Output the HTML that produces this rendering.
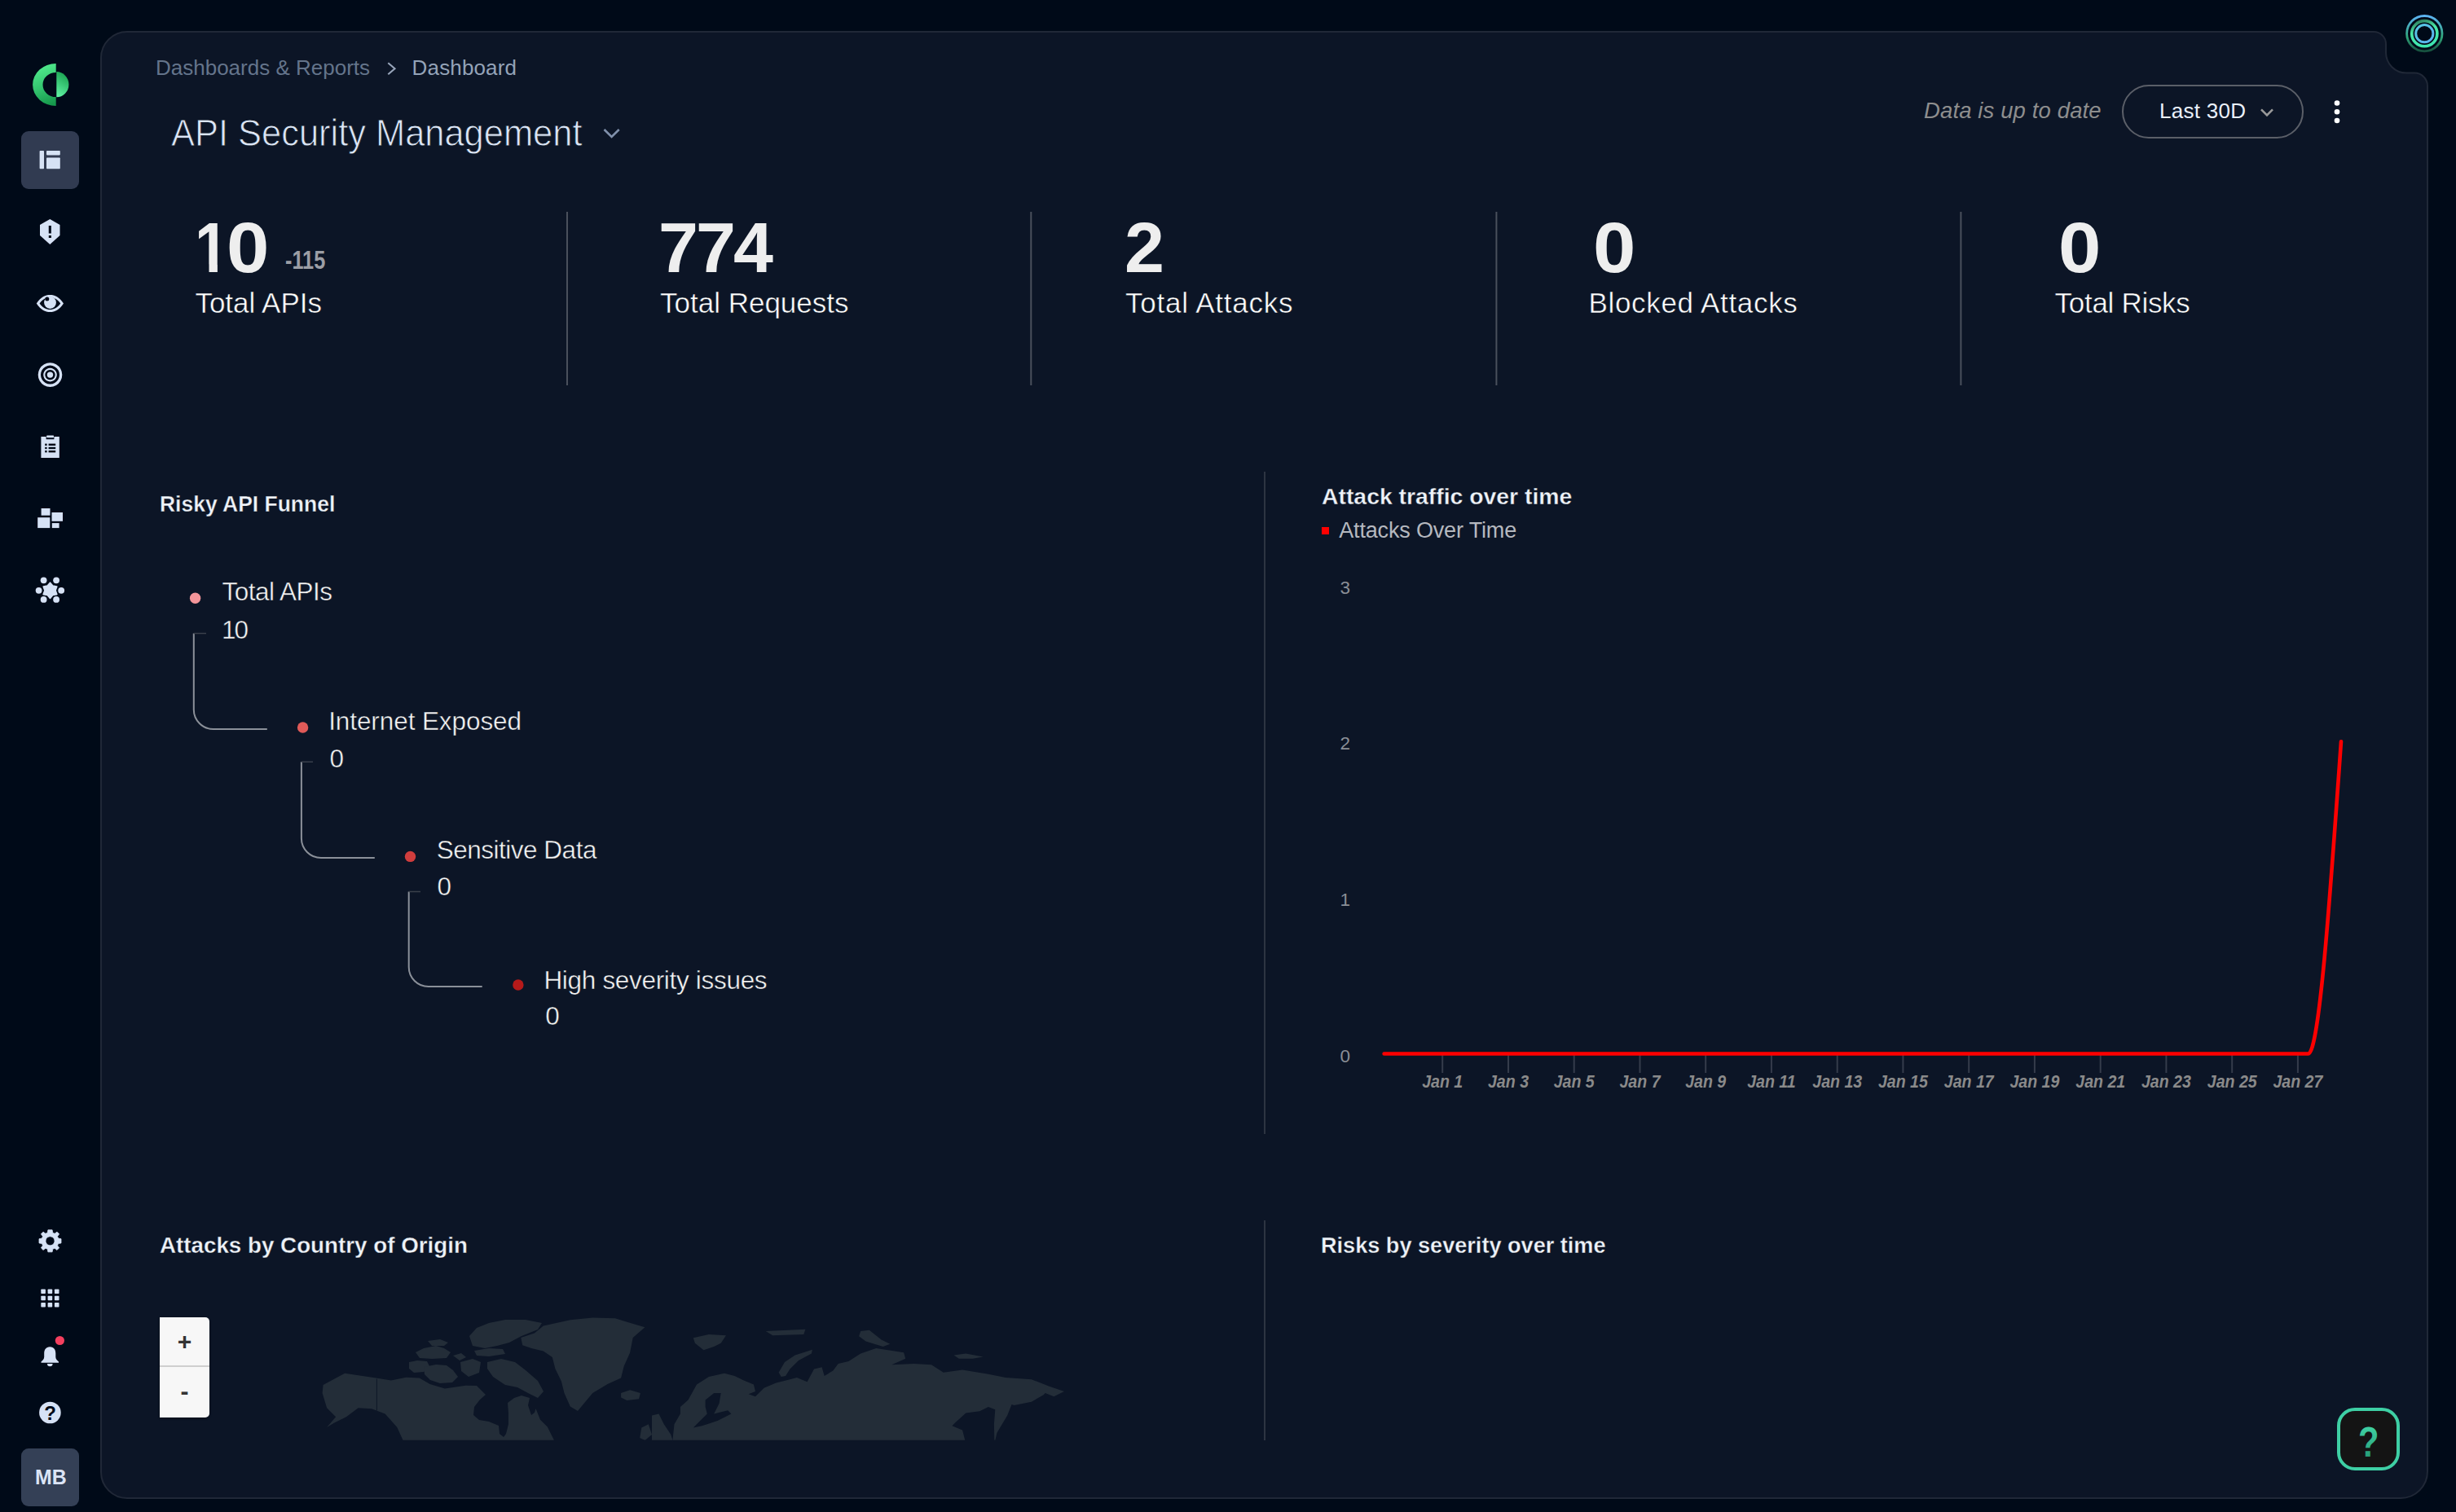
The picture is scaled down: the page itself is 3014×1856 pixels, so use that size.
<!DOCTYPE html>
<html lang="en">
<head>
<meta charset="utf-8">
<title>API Security Management - Dashboard</title>
<style>
html,body{margin:0;padding:0}
body{width:3014px;height:1856px;overflow:hidden;position:relative;background:#000a18;font-family:"Liberation Sans",Arial,sans-serif;color:#fff}
.t{position:absolute;line-height:1;white-space:nowrap}
svg{position:absolute;left:0;top:0;overflow:visible}
.nav{position:absolute}
.bc{font-size:26px;color:#64748b}
.title{font-size:46px;color:#dbe5f6;letter-spacing:0}
.num{font-size:88px;font-weight:bold;color:#eeeeee}
.lbl{font-size:35px;color:#ffffff;-webkit-text-stroke:0.5px #0c1526}
.h{font-size:28.5px;font-weight:bold;color:#eef2f8;-webkit-text-stroke:0.35px #0c1526}
.fl{font-size:31.5px;color:#f4f4f4;-webkit-text-stroke:0.45px #0c1526}
.zoom{position:absolute;left:196px;top:1617px;width:61px;height:123px;background:#f7f7f7;border-radius:0 5px 5px 0;box-shadow:0 1px 3px rgba(0,0,0,.4)}
.zoom div{position:absolute;left:0;width:61px;height:61px;text-align:center;color:#333;font-weight:bold;font-family:"Liberation Sans",sans-serif}
</style>
</head>
<body>

<!-- main panel shape -->
<svg width="3014" height="1856" viewBox="0 0 3014 1856">
  <path d="M156 39 H2913 A15 15 0 0 1 2928 54 V64.5 A25 25 0 0 0 2953 89.5 H2963 A16 16 0 0 1 2979 105.5 V1806 A33 33 0 0 1 2946 1839 H156 A32 32 0 0 1 124 1807 V71 A32 32 0 0 1 156 39 Z" fill="#0c1526" stroke="#202837" stroke-width="2"/>
</svg>

<!-- ===== sidebar ===== -->
<svg width="130" height="1856" viewBox="0 0 130 1856">
  <defs>
    <linearGradient id="lg1" x1="0.4" y1="0" x2="0.6" y2="1"><stop offset="0" stop-color="#52ec8e"/><stop offset="0.55" stop-color="#33c46e"/><stop offset="1" stop-color="#16994c"/></linearGradient>
    <linearGradient id="lg2" x1="0.6" y1="0" x2="0.3" y2="1"><stop offset="0" stop-color="#18a04e"/><stop offset="1" stop-color="#5ef2a2"/></linearGradient>
  </defs>
  <!-- logo -->
  <path d="M68.7 78 A28.6 26 0 0 0 68.7 130 V119.1 A16.2 15.1 0 0 1 68.7 88.9 Z" fill="url(#lg1)"/>
  <path d="M69.3 88.1 A15.1 15.6 0 0 1 69.3 119.3 Z" fill="url(#lg2)"/>
  <!-- active button -->
  <rect x="26" y="161" width="71" height="71" rx="9" fill="#313b51"/>
  <g fill="#d6e2f5">
    <rect x="48.6" y="185" width="5.4" height="22.3" rx="0.8"/>
    <rect x="57" y="185" width="16.8" height="5.4" rx="0.8"/>
    <rect x="57" y="193.4" width="16.8" height="13.9" rx="0.8"/>
  </g>
  <g fill="#d6e2f5">
    <!-- shield -->
    <path d="M61.3 268.9 L73.5 276 V289 L61.3 300 L49 289 V276 Z"/>
    <!-- eye -->
    <path d="M44.8 372.5 C50 364.5 55.5 362 61.4 362 C67.3 362 72.8 364.5 78 372.5 C72.8 380.5 67.3 383 61.4 383 C55.5 383 50 380.5 44.8 372.5 Z M48.6 372.5 C52.6 378 56.6 380 61.4 380 C66.2 380 70.2 378 74.2 372.5 C70.2 367 66.2 365 61.4 365 C56.6 365 52.6 367 48.6 372.5 Z" fill-rule="evenodd"/>
    <circle cx="61.5" cy="371.6" r="7.4"/>
    <!-- target -->
    <path d="M61.5 445.3 a14.8 14.8 0 1 0 0.01 0 Z M61.5 448.6 a11.5 11.5 0 1 1 -0.01 0 Z" fill-rule="evenodd"/>
    <path d="M61.5 451.8 a8.3 8.3 0 1 0 0.01 0 Z M61.5 453.9 a6.2 6.2 0 1 1 -0.01 0 Z" fill-rule="evenodd"/>
    <circle cx="61.5" cy="460.1" r="3.7"/>
    <!-- clipboard -->
    <path d="M50.4 536 H56.6 V539.2 H66.4 V536 H72.8 V562 H50.4 Z"/>
    <rect x="57.2" y="534.6" width="8.8" height="2.6" rx="0.6"/>
    <!-- blocks -->
    <rect x="50.6" y="624" width="10.9" height="8.7"/>
    <rect x="63.5" y="629" width="13.5" height="10.8"/>
    <rect x="46.2" y="635.2" width="15.1" height="12.9"/>
    <rect x="63.8" y="642.1" width="8.8" height="6"/>
    <!-- hub -->
    <path d="M61.50 715.20 L64.80 719.08 L69.81 720.00 L68.10 724.80 L69.81 729.60 L64.80 730.52 L61.50 734.40 L58.20 730.52 L53.19 729.60 L54.90 724.80 L53.19 720.00 L58.20 719.08 Z" stroke="#d6e2f5" stroke-width="1.6" stroke-linejoin="round"/>
    <circle cx="53.6" cy="712.3" r="3.9"/><circle cx="69.1" cy="712.3" r="3.9"/>
    <circle cx="47.6" cy="724.8" r="3.9"/><circle cx="75.2" cy="724.8" r="3.9"/>
    <circle cx="53.6" cy="735.9" r="3.9"/><circle cx="69.1" cy="735.9" r="3.9"/>
    <!-- gear -->
    <g transform="translate(61.5 1523.3)">
      <path d="M-2.6 -13.5 H2.6 L3.2 -10 L5.6 -9 L8.5 -11.1 L11.1 -8.5 L9 -5.6 L10 -3.2 L13.5 -2.6 V2.6 L10 3.2 L9 5.6 L11.1 8.5 L8.5 11.1 L5.6 9 L3.2 10 L2.6 13.5 H-2.6 L-3.2 10 L-5.6 9 L-8.5 11.1 L-11.1 8.5 L-9 5.6 L-10 3.2 L-13.5 2.6 V-2.6 L-10 -3.2 L-9 -5.6 L-11.1 -8.5 L-8.5 -11.1 L-5.6 -9 L-3.2 -10 Z M0 -5.5 A5.5 5.5 0 1 0 0.01 -5.5 Z" fill-rule="evenodd" stroke="#d6e2f5" stroke-width="0.8" stroke-linejoin="round"/>
    </g>
    <!-- grid -->
    <rect x="50.3" y="1582.4" width="5.6" height="5.6" rx="0.8"/><rect x="58.6" y="1582.4" width="5.6" height="5.6" rx="0.8"/><rect x="66.9" y="1582.4" width="5.6" height="5.6" rx="0.8"/>
    <rect x="50.3" y="1590.7" width="5.6" height="5.6" rx="0.8"/><rect x="58.6" y="1590.7" width="5.6" height="5.6" rx="0.8"/><rect x="66.9" y="1590.7" width="5.6" height="5.6" rx="0.8"/>
    <rect x="50.3" y="1599" width="5.6" height="5.6" rx="0.8"/><rect x="58.6" y="1599" width="5.6" height="5.6" rx="0.8"/><rect x="66.9" y="1599" width="5.6" height="5.6" rx="0.8"/>
    <!-- bell -->
    <path d="M61.3 1653.2 C56.3 1653.2 54.2 1656.8 54.2 1661.5 V1665.8 C54.2 1668.3 52.3 1670 50.5 1671.4 V1672.8 H72 V1671.4 C70.2 1670 68.3 1668.3 68.3 1665.8 V1661.5 C68.3 1656.8 66.3 1653.2 61.3 1653.2 Z"/>
    <path d="M58 1674 H64.6 A3.3 3.3 0 0 1 58 1674 Z"/>
    <!-- help circle -->
    <circle cx="61.4" cy="1734" r="13.3"/>
  </g>
  <g fill="none" stroke="#000a18">
    <path d="M61.3 277 V286.5" stroke-width="3.1"/>
  </g>
  <rect x="59.8" y="289" width="3.1" height="3" fill="#000a18"/>
  <circle cx="57.8" cy="367" r="2.5" fill="#000a18"/>
  <g fill="#000a18">
    <rect x="55.2" y="544.6" width="2.4" height="2.4"/><rect x="59.6" y="544.6" width="8.6" height="2.4"/>
    <rect x="55.2" y="548.8" width="2.4" height="2.4"/><rect x="59.6" y="548.8" width="8.6" height="2.4"/>
    <rect x="55.2" y="553" width="2.4" height="2.4"/><rect x="59.6" y="553" width="8.6" height="2.4"/>
  </g>
  <text x="61.6" y="1743" text-anchor="middle" font-family="Liberation Sans" font-weight="bold" font-size="24" fill="#000a18">?</text>
  <circle cx="73.4" cy="1645.5" r="5.6" fill="#f43f5e"/>
  <rect x="26" y="1778" width="71" height="71" rx="9" fill="#344056"/>
</svg>
<div class="t" style="left:42.6px;top:1799.8px;font-size:26.7px;font-weight:bold;color:#dbe4f5;transform:scaleX(0.933);transform-origin:0 0">MB</div>

<!-- top-right ring logo -->
<svg width="3014" height="120" viewBox="0 0 3014 120">
  <defs>
    <linearGradient id="rg1" x1="0" y1="0" x2="0" y2="1"><stop offset="0" stop-color="#5db4f2"/><stop offset="0.6" stop-color="#2fa57a"/><stop offset="1" stop-color="#16503e"/></linearGradient>
    <linearGradient id="rg2" x1="0.2" y1="0" x2="0.5" y2="1"><stop offset="0" stop-color="#2f7f5f"/><stop offset="0.4" stop-color="#49e8a6"/><stop offset="1" stop-color="#3ee6b0"/></linearGradient>
    <linearGradient id="rg3" x1="0" y1="0" x2="1" y2="1"><stop offset="0" stop-color="#56c8e0"/><stop offset="1" stop-color="#5ab0f0"/></linearGradient>
  </defs>
  <circle cx="2975.3" cy="41.2" r="21.7" fill="none" stroke="url(#rg1)" stroke-width="2.8"/>
  <circle cx="2975.3" cy="41.2" r="15.6" fill="none" stroke="url(#rg2)" stroke-width="3.6"/>
  <circle cx="2975.3" cy="41.2" r="10.6" fill="none" stroke="url(#rg3)" stroke-width="3"/>
</svg>

<!-- ===== header ===== -->
<div class="t bc" style="left:191px;top:69.8px;letter-spacing:0px">Dashboards &amp; Reports</div>
<svg width="600" height="120"><path d="M476.3 77.3 L484.5 84.3 L476.3 91.3" fill="none" stroke="#98a5ba" stroke-width="2.1"/></svg>
<div class="t bc" style="left:505.6px;top:69.8px;color:#94a3b8;letter-spacing:0.15px">Dashboard</div>
<div class="t title" style="left:209.6px;top:139.7px;transform:scaleX(0.944);transform-origin:0 0;-webkit-text-stroke:0.9px #0c1526">API Security Management</div>
<svg width="800" height="200"><path d="M741.5 159 L750.6 168 L759.7 159" fill="none" stroke="#8090ab" stroke-width="2.6"/></svg>

<div class="t" style="left:2361px;top:122.1px;font-size:27.5px;font-style:italic;color:#8e8e8e;letter-spacing:0.12px">Data is up to date</div>
<div style="position:absolute;left:2604px;top:104px;width:219px;height:62px;border:2px solid #5b5f68;border-radius:33px"></div>
<div class="t" style="left:2650px;top:123.4px;font-size:26px;color:#eaf0fb;letter-spacing:0.29px">Last 30D</div>
<svg width="3014" height="200"><path d="M2775 134.3 L2782 141.3 L2789 134.3" fill="none" stroke="#9a9a9a" stroke-width="2.6"/>
  <g fill="#ffffff"><circle cx="2868" cy="126.5" r="3.3"/><circle cx="2868" cy="137.2" r="3.3"/><circle cx="2868" cy="148" r="3.3"/></g>
</svg>

<!-- ===== stats ===== -->
<div class="t num" style="left:238.9px;top:260.2px;transform:scaleX(0.85);transform-origin:0 0;clip-path:polygon(0 0,100% 0,100% 64.5px,32.8px 64.5px,32.8px 100%,20.6px 100%,20.6px 64.5px,0 64.5px)">1</div>
<div class="t num" style="left:277.5px;top:260.2px;transform:scaleX(1.07);transform-origin:0 0">0</div>
<div class="t" style="left:350px;top:303.7px;font-size:30.5px;font-weight:bold;color:#9c9ea5;transform:scaleX(0.83);transform-origin:0 0">-115</div>
<div class="t lbl" style="left:239.4px;top:353.6px;letter-spacing:0px">Total APIs</div>
<div class="t num" style="left:808px;top:260.2px;letter-spacing:-3px">774</div>
<div class="t lbl" style="left:810px;top:353.6px;letter-spacing:0px">Total Requests</div>
<div class="t num" style="left:1380px;top:260.2px">2</div>
<div class="t lbl" style="left:1381px;top:353.6px;letter-spacing:0.75px">Total Attacks</div>
<div class="t num" style="left:1954.8px;top:260.2px;transform:scaleX(1.07);transform-origin:0 0">0</div>
<div class="t lbl" style="left:1949.5px;top:353.6px;letter-spacing:0.66px">Blocked Attacks</div>
<div class="t num" style="left:2525.6px;top:260.2px;transform:scaleX(1.07);transform-origin:0 0">0</div>
<div class="t lbl" style="left:2521.6px;top:353.6px;letter-spacing:-0.3px">Total Risks</div>
<svg width="3014" height="600"><g stroke="#4a505c" stroke-width="2">
  <line x1="696" y1="260" x2="696" y2="473"/><line x1="1265.3" y1="260" x2="1265.3" y2="473"/>
  <line x1="1836.4" y1="260" x2="1836.4" y2="473"/><line x1="2406.4" y1="260" x2="2406.4" y2="473"/></g></svg>

<!-- ===== funnel ===== -->
<div class="t h" style="left:195.6px;top:603.8px;transform:scaleX(0.929);transform-origin:0 0">Risky API Funnel</div>
<svg width="1200" height="1300">
  <g fill="none" stroke="#8b9099" stroke-width="2">
    <path d="M237.8 777.5 V871 A24 24 0 0 0 261.8 895 H327.8"/>
    <path d="M369.9 935.2 V1029 A24 24 0 0 0 393.9 1053 H459.8"/>
    <path d="M501.7 1094.5 V1187 A24 24 0 0 0 525.7 1211 H591.7"/>
  </g>
  <g fill="none" stroke="#3a404b" stroke-width="1.5">
    <path d="M237.8 777.5 H253"/><path d="M369.9 935.2 H384"/><path d="M501.7 1094.5 H516"/>
  </g>
  <circle cx="239.6" cy="734.3" r="6.7" fill="#f4959a"/>
  <circle cx="371.6" cy="893" r="6.7" fill="#e05a58"/>
  <circle cx="503.5" cy="1051.4" r="6.7" fill="#d03d3d"/>
  <circle cx="635.9" cy="1209" r="6.7" fill="#b51a1a"/>
</svg>
<div class="t fl" style="left:272.4px;top:711px;letter-spacing:-0.5px">Total APIs</div>
<div class="t fl" style="left:272px;top:758.4px;letter-spacing:-2px">10</div>
<div class="t fl" style="left:403.2px;top:870.2px;letter-spacing:-0.09px">Internet Exposed</div>
<div class="t fl" style="left:404.6px;top:915.8px">0</div>
<div class="t fl" style="left:535.8px;top:1028.2px;letter-spacing:-0.5px">Sensitive Data</div>
<div class="t fl" style="left:536.6px;top:1073.2px">0</div>
<div class="t fl" style="left:667.4px;top:1187.9px;letter-spacing:-0.31px">High severity issues</div>
<div class="t fl" style="left:669.3px;top:1232.1px">0</div>

<!-- ===== attack chart ===== -->
<div class="t h" style="left:1621.6px;top:595px;transform:scaleX(0.995);transform-origin:0 0">Attack traffic over time</div>
<div style="position:absolute;left:1622px;top:647.3px;width:9.4px;height:9px;background:#ff0000"></div>
<div class="t" style="left:1643.2px;top:638px;font-size:27px;color:#b5b8bf;letter-spacing:-0.16px">Attacks Over Time</div>
<svg width="3014" height="1856">
  <g stroke="#2d3442" stroke-width="2"><line x1="1552" y1="579" x2="1552" y2="1392"/><line x1="1552" y1="1498" x2="1552" y2="1768"/></g>
  <g stroke="#353c4b" stroke-width="2"><line x1="1770.2" y1="1295" x2="1770.2" y2="1317"/><line x1="1851.0" y1="1295" x2="1851.0" y2="1317"/><line x1="1931.7" y1="1295" x2="1931.7" y2="1317"/><line x1="2012.5" y1="1295" x2="2012.5" y2="1317"/><line x1="2093.2" y1="1295" x2="2093.2" y2="1317"/><line x1="2173.9" y1="1295" x2="2173.9" y2="1317"/><line x1="2254.7" y1="1295" x2="2254.7" y2="1317"/><line x1="2335.4" y1="1295" x2="2335.4" y2="1317"/><line x1="2416.2" y1="1295" x2="2416.2" y2="1317"/><line x1="2496.9" y1="1295" x2="2496.9" y2="1317"/><line x1="2577.7" y1="1295" x2="2577.7" y2="1317"/><line x1="2658.4" y1="1295" x2="2658.4" y2="1317"/><line x1="2739.2" y1="1295" x2="2739.2" y2="1317"/><line x1="2819.9" y1="1295" x2="2819.9" y2="1317"/></g>
  <g font-family="Liberation Sans" font-size="22.5" fill="#8a8e96" text-anchor="end"><text x="1657" y="1304.0">0</text><text x="1657" y="1112.2">1</text><text x="1657" y="920.4">2</text><text x="1657" y="728.6">3</text></g>
  <g font-family="Liberation Sans" font-size="22" font-weight="bold" font-style="italic" fill="#8a8a8a" text-anchor="middle"><text transform="translate(1770.2 1334.5) scale(0.89 1)">Jan 1</text><text transform="translate(1851.0 1334.5) scale(0.89 1)">Jan 3</text><text transform="translate(1931.7 1334.5) scale(0.89 1)">Jan 5</text><text transform="translate(2012.5 1334.5) scale(0.89 1)">Jan 7</text><text transform="translate(2093.2 1334.5) scale(0.89 1)">Jan 9</text><text transform="translate(2173.9 1334.5) scale(0.89 1)">Jan 11</text><text transform="translate(2254.7 1334.5) scale(0.89 1)">Jan 13</text><text transform="translate(2335.4 1334.5) scale(0.89 1)">Jan 15</text><text transform="translate(2416.2 1334.5) scale(0.89 1)">Jan 17</text><text transform="translate(2496.9 1334.5) scale(0.89 1)">Jan 19</text><text transform="translate(2577.7 1334.5) scale(0.89 1)">Jan 21</text><text transform="translate(2658.4 1334.5) scale(0.89 1)">Jan 23</text><text transform="translate(2739.2 1334.5) scale(0.89 1)">Jan 25</text><text transform="translate(2819.9 1334.5) scale(0.89 1)">Jan 27</text></g>
  <path d="M1698.6 1293.5 H2832.6 C2846.1 1293.5 2859.5 1101.5 2873 910.2" fill="none" stroke="#ff0000" stroke-width="4.6" stroke-linecap="round" stroke-linejoin="round"/>
</svg>

<!-- ===== bottom row ===== -->
<div class="t h" style="left:196px;top:1514px;transform:scaleX(0.974);transform-origin:0 0">Attacks by Country of Origin</div>
<div class="t h" style="left:1621px;top:1513.8px;transform:scaleX(0.951);transform-origin:0 0">Risks by severity over time</div>
<svg width="3014" height="1856">
  <defs><clipPath id="mc"><rect x="360" y="1590" width="960" height="177.7"/></clipPath></defs>
  <g clip-path="url(#mc)">
    <g fill="#232d38"><polygon points="396.6,1699.9 423.1,1685.7 461.6,1691.6 479.9,1694.4 498.3,1690.7 514.7,1691.6 527.6,1698.9 545.9,1704.4 571.5,1700.8 585.0,1701.0 596.0,1712.0 589.0,1718.0 582.0,1727.0 581.0,1737.0 588.0,1743.0 600.0,1745.0 612.0,1750.0 613.0,1760.0 618.0,1764.0 621.0,1760.0 624.0,1748.0 624.0,1735.0 623.0,1722.0 631.0,1716.0 640.0,1713.0 650.0,1716.0 648.0,1725.0 652.0,1737.0 656.0,1734.0 657.5,1729.0 663.0,1742.7 671.8,1751.6 680.0,1768.0 680.0,1770.0 495.5,1770.0 487.3,1752.0 472.6,1735.6 456.1,1729.2 439.6,1728.3 425.0,1739.2 410.3,1746.6 401.1,1752.0 412.1,1739.2 401.1,1728.3 395.6,1709.9"/><polygon points="502.0,1672.0 512.0,1670.0 524.0,1671.0 527.0,1677.0 520.0,1684.0 508.0,1685.0 502.0,1680.0"/><polygon points="520.0,1678.0 535.0,1675.0 548.0,1676.0 556.0,1682.0 562.0,1690.0 555.0,1697.0 540.0,1698.0 528.0,1694.0 521.0,1687.0"/><polygon points="510.0,1660.0 520.0,1655.0 535.0,1652.0 545.0,1655.0 553.0,1660.0 548.0,1667.0 530.0,1668.0 515.0,1667.0"/><polygon points="525.0,1646.0 540.0,1644.0 550.0,1648.0 545.0,1652.0 530.0,1652.0"/><polygon points="576.0,1640.0 585.0,1630.0 600.0,1624.0 620.0,1620.0 645.0,1620.0 665.0,1624.0 660.0,1632.0 640.0,1640.0 625.0,1648.0 610.0,1652.0 595.0,1655.0 580.0,1652.0"/><polygon points="582.0,1658.0 600.0,1655.0 617.0,1656.0 620.0,1662.0 600.0,1665.0 585.0,1664.0"/><polygon points="565.0,1672.0 580.0,1668.0 590.0,1672.0 588.0,1685.0 575.0,1690.0 566.0,1683.0"/><polygon points="598.0,1672.0 615.0,1668.0 632.0,1672.0 645.0,1682.0 660.0,1695.0 667.0,1708.0 660.0,1716.0 648.0,1710.0 635.0,1703.0 620.0,1700.0 605.0,1690.0 598.0,1680.0"/><polygon points="556.0,1664.0 566.0,1661.0 572.0,1666.0 564.0,1670.0"/><polygon points="639.3,1642.1 655.8,1636.6 666.8,1627.5 699.8,1620.2 727.3,1617.4 754.8,1618.3 791.4,1629.3 776.7,1642.1 773.1,1660.5 765.7,1677.0 762.1,1691.6 745.6,1698.9 727.3,1709.9 718.1,1720.9 709.0,1731.9 699.8,1726.4 692.5,1709.9 688.8,1695.3 681.5,1680.6 677.8,1666.0 666.8,1658.6 652.2,1655.0 641.2,1651.3"/><polygon points="762.1,1709.9 773.1,1706.3 785.9,1709.9 784.1,1717.3 769.4,1719.1 762.1,1715.4"/><polygon points="825.4,1767.9 827.5,1748.2 834.9,1735.5 834.9,1727.0 844.5,1718.6 855.0,1699.5 869.9,1690.0 888.9,1685.8 901.6,1688.9 912.2,1694.2 924.9,1699.5 927.0,1708.0 918.6,1711.2 927.0,1714.3 937.6,1703.7 952.4,1697.4 969.4,1693.2 977.9,1691.0 990.6,1696.3 999.0,1680.5 1008.6,1678.3 1011.7,1688.9 1022.3,1682.6 1028.7,1674.1 1041.4,1670.9 1056.2,1661.4 1075.2,1655.0 1109.1,1660.3 1111.2,1667.8 1094.3,1675.2 1121.8,1674.1 1143.0,1675.2 1157.8,1684.7 1181.1,1681.5 1212.9,1686.8 1234.0,1691.0 1265.8,1693.2 1287.0,1701.6 1306.0,1708.0 1293.3,1714.3 1282.7,1710.1 1280.6,1712.2 1265.8,1720.7 1244.6,1724.9 1241.5,1723.9 1236.2,1737.6 1223.5,1758.8 1221.3,1767.9 1220.3,1767.9 1219.9,1748.2 1221.3,1730.2 1212.9,1727.0 1202.3,1732.3 1185.3,1734.4 1172.6,1746.1 1168.4,1750.3 1181.1,1755.6 1184.3,1767.9"/><polygon points="955.6,1684.7 963.0,1672.0 975.7,1663.5 996.9,1656.7 995.9,1661.4 980.0,1669.9 969.4,1680.5 964.1,1688.9 958.8,1690.0"/><polygon points="850.8,1642.3 869.9,1638.1 891.0,1639.2 884.7,1648.7 876.2,1652.9 863.5,1657.2 852.9,1648.7"/><polygon points="939.7,1633.9 988.4,1631.8 986.3,1638.1 948.2,1639.2"/><polygon points="1056.2,1633.9 1066.8,1632.8 1081.6,1644.5 1092.2,1649.8 1083.7,1652.9 1062.5,1646.6 1054.1,1640.2"/><polygon points="1170.5,1663.5 1185.3,1661.4 1206.5,1665.6 1193.8,1667.8 1176.9,1667.8"/><polygon points="800.0,1737.6 808.5,1735.5 814.8,1748.2 823.3,1760.9 825.4,1767.9 800.0,1767.9"/><polygon points="787.3,1752.4 795.8,1748.2 800.0,1760.9 791.5,1767.9 785.2,1765.1"/></g>
    <g fill="#0c1526"><polygon points="865.6,1718.6 876.2,1710.1 884.7,1710.1 882.6,1722.8 876.2,1735.5 893.2,1731.3 897.4,1735.5 880.5,1744.0 867.8,1748.2 861.4,1750.3 850.8,1752.4 857.2,1746.1 867.8,1735.5 865.6,1727.0"/></g>
    <line x1="462.4" y1="1692.6" x2="462.4" y2="1731.7" stroke="#0f1828" stroke-width="1"/>
  </g>
</svg>
<div class="zoom">
  <div style="top:0;height:59px;line-height:60px;font-size:30px;border-bottom:2px solid #cfcfcf">+</div>
  <div style="top:61px;height:62px;line-height:60px;font-size:30px">-</div>
</div>

<!-- help button -->
<div style="position:absolute;left:2868px;top:1728px;width:69px;height:69px;border:4px solid #3ecfa4;border-radius:22px;background:#141414"></div>
<svg width="3014" height="1856">
  <defs><linearGradient id="qg" x1="0" y1="0" x2="0" y2="1"><stop offset="0" stop-color="#47e0b0"/><stop offset="1" stop-color="#1f8f6c"/></linearGradient></defs>
  <text transform="translate(2906.6 1787.5) scale(0.8 1)" text-anchor="middle" font-family="Liberation Sans" font-weight="bold" font-size="52" fill="url(#qg)">?</text>
</svg>

<script>(function(){var w=window.innerWidth;if(w&&Math.abs(w-3014)>2){var k=w/3014;var b=document.body;b.style.transformOrigin="0 0";b.style.transform="scale("+k+")";document.documentElement.style.overflow="hidden";}})();</script>
</body>
</html>
